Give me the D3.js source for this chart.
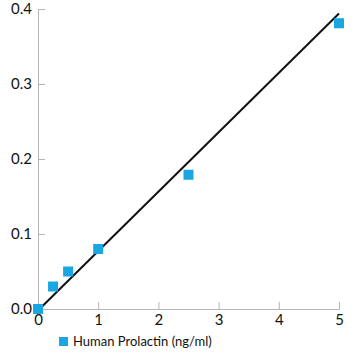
<!DOCTYPE html>
<html>
<head>
<meta charset="utf-8">
<script src="https://cdn.jsdelivr.net/npm/d3@7"></script>
<style>
  body { margin:0; background:#fff; }
  text { font-family: Lato, "Open Sans", sans-serif; }
</style>
</head>
<body>
<div id="chart"></div>
<script>
// data
var concentration = [0, 0.25, 0.5, 1, 2.5, 5];
var absorbance = [0, 0.03, 0.05, 0.08, 0.179, 0.381];
var fitX = [0, 5];
var fitY = [-0.002, 0.394];
var xTicks = [0, 1, 2, 3, 4, 5];
var yTicks = [0, 0.1, 0.2, 0.3, 0.4];
var seriesName = "Human Prolactin (ng/ml)";

var margin = { left:38, right:21, top:9, bottom:51 };
var w = 360 - margin.left - margin.right;
var h = 360 - margin.top - margin.bottom;

var svg = d3.select("#chart")
    .append("svg")
    .attr("width", 360)
    .attr("height", 360);

var g = svg.append("g")
    .attr("transform", "translate(" + margin.left + "," + margin.top + ")");

var xScale = d3.scaleLinear().domain([0, 5]).range([0, w]);
var yScale = d3.scaleLinear().domain([0, 0.4]).range([h, 0]);

// axes, ticks pointing inside
var xAxis = d3.axisBottom(xScale).tickValues(xTicks).tickSize(-7).tickPadding(5)
    .tickFormat(d3.format("d"));
var yAxis = d3.axisLeft(yScale).tickValues(yTicks).tickSize(-7).tickPadding(6)
    .tickFormat(d3.format(".1f"));

var xg = g.append("g")
    .attr("transform", "translate(0," + h + ")")
    .call(xAxis);
var yg = g.append("g").call(yAxis);

[xg, yg].forEach(function (a) {
    a.select(".domain").attr("stroke", "#b5b5b5");
    a.selectAll(".tick line").attr("stroke", "#b5b5b5");
    a.selectAll(".tick text")
        .attr("font-size", 15)
        .attr("fill", "#111");
});

// fit line
var line = d3.line()
    .x(function (d) { return xScale(d[0]); })
    .y(function (d) { return yScale(d[1]); });

g.append("path")
    .datum(d3.zip(fitX, fitY))
    .attr("d", line)
    .attr("fill", "none")
    .attr("stroke", "#111")
    .attr("stroke-width", 2);

// points
var size = 10;
g.selectAll(".pt")
    .data(d3.zip(concentration, absorbance))
    .enter()
    .append("rect")
    .attr("class", "pt")
    .attr("x", function (d) { return xScale(d[0]) - size / 2; })
    .attr("y", function (d) { return yScale(d[1]) - size / 2; })
    .attr("width", size)
    .attr("height", size)
    .attr("fill", "#1aa7e1");

// legend
var lg = svg.append("g").attr("transform", "translate(59,337)");
lg.append("rect")
    .attr("width", 9)
    .attr("height", 9)
    .attr("fill", "#1aa7e1");
lg.append("text")
    .attr("x", 14)
    .attr("y", 9)
    .attr("font-size", 13)
    .attr("fill", "#111")
    .text(seriesName);
</script>
</body>
</html>
